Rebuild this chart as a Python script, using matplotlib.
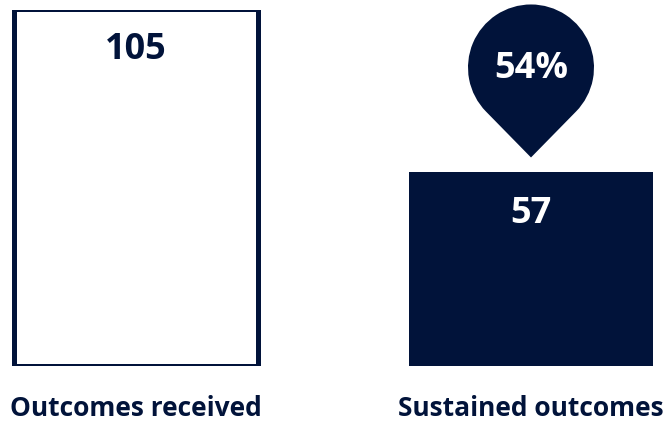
import matplotlib
matplotlib.use("Agg")
import matplotlib.pyplot as plt
from matplotlib.path import Path
from matplotlib.patches import PathPatch
import matplotlib.transforms as mtransforms
import numpy as np

plt.rcParams['font.family'] = ['Open Sans', 'DejaVu Sans']

categories = ["Outcomes received", "Sustained outcomes"]
values = [105, 57]
share_label = "54%"

navy = "#01133A"

fig = plt.figure(figsize=(6.69, 4.21), dpi=100)
ax = fig.add_axes([0, 55 / 421, 1, 356.5 / 421])
ax.set_xlim(-136 / 395, (669 - 136) / 395)
ax.set_ylim(0, 105)

x = np.arange(len(values))
w = 0.62
# first bar is outlined, second is solid
ax.bar(x[0], values[0], width=w, facecolor="white", edgecolor=navy, linewidth=3.6, joinstyle="round")
ax.bar(x[1], values[1], width=w, facecolor=navy, edgecolor=navy, linewidth=0)

ax.text(x[0], values[0] - 11.8, str(values[0]), ha="center", va="center",
        fontsize=26, fontweight="bold", color=navy)
ax.text(x[1], values[1] - 12.2, str(values[1]), ha="center", va="center",
        fontsize=26, fontweight="bold", color="white")

# pin marker above the second bar, built in pixels relative to its tip
r, d = 63.0, 90.0
phi = np.degrees(np.arccos(r / d))
arc = Path.arc(-90 + phi, 270 - phi)
verts = [(0, 0)] + [(r * vx, d + r * vy) for vx, vy in arc.vertices] + [(0, 0)]
codes = [Path.MOVETO] + [Path.LINETO] + list(arc.codes[1:]) + [Path.CLOSEPOLY]
pin = Path(verts, codes)
tip_offset = mtransforms.ScaledTranslation(x[1], values[1], ax.transData)
pin_trans = mtransforms.Affine2D().translate(0, 15).scale(fig.dpi / 100) + tip_offset
ax.add_patch(PathPatch(pin, facecolor=navy, edgecolor="none", transform=pin_trans, clip_on=False))
ax.text(0, 15 + d - 2, share_label, ha="center", va="center", fontsize=26,
        fontweight="bold", color="white",
        transform=mtransforms.Affine2D().scale(fig.dpi / 100) + tip_offset)

ax.set_xticks(x)
ax.set_xticklabels(categories, fontsize=19, fontweight="bold", color=navy)
ax.tick_params(axis="x", length=0, pad=21)
ax.set_yticks([])
for s in ax.spines.values():
    s.set_visible(False)
ax.patch.set_alpha(0)

fig.savefig("out.png", dpi=100)
